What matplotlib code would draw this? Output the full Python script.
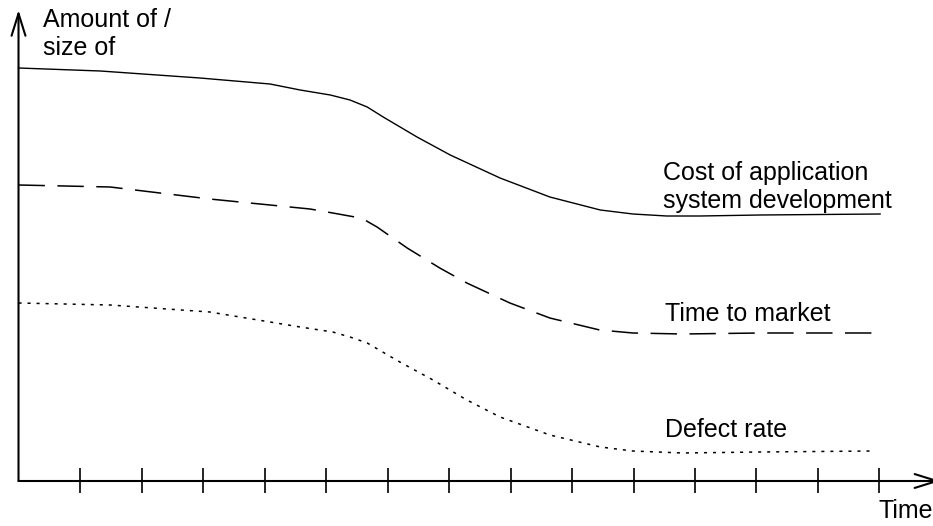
import matplotlib
matplotlib.use("Agg")
import matplotlib.pyplot as plt

#---------------------------
# Données
#---------------------------

# x en graduations de l'axe du temps, y en unités arbitraires
cost_x = [0, 1.33, 2.95, 4.09, 4.58, 5.07, 5.39, 5.67, 5.93, 6.48, 7.02, 7.83, 8.64, 9.46, 9.99, 10.54, 11.08, 12.06, 14.01]
cost_y = [41.3, 41.0, 40.3, 39.7, 39.1, 38.6, 38.1, 37.4, 36.4, 34.4, 32.6, 30.3, 28.4, 27.1, 26.7, 26.5, 26.5, 26.6, 26.7]

ttm_x = [0, 1.49, 3.11, 4.74, 5.11, 5.47, 5.66, 5.83, 6.32, 6.85, 7.29, 7.99, 8.64, 9.45, 9.99, 10.80, 12.06, 13.88]
ttm_y = [29.6, 29.4, 28.2, 27.2, 26.8, 26.4, 26.0, 25.4, 23.3, 21.3, 19.8, 17.8, 16.3, 15.1, 14.8, 14.7, 14.8, 14.8]

defect_x = [0, 1.49, 3.11, 4.58, 5.11, 5.39, 5.67, 6.20, 6.74, 7.29, 7.83, 8.64, 9.46, 9.99, 10.80, 12.06, 13.88]
defect_y = [17.8, 17.6, 16.9, 15.4, 14.9, 14.4, 13.8, 11.9, 10.1, 8.1, 6.4, 4.6, 3.4, 3.0, 2.8, 2.9, 3.0]

tick_positions = list(range(1, 15))

labels = {
    "cost": "Cost of application\nsystem development",
    "ttm": "Time to market",
    "defect": "Defect rate",
}
y_label = "Amount of /\nsize of"
x_label = "Time"

#---------------------------
# Figure
#---------------------------

plt.rcParams["font.family"] = ["Liberation Sans", "DejaVu Sans"]
plt.rcParams["lines.scale_dashes"] = False

fig = plt.figure(figsize=(9.33, 5.26), dpi=100)
ax = fig.add_axes([0, 0, 1, 1])
ax.set_xlim(-0.301, 14.870)
ax.set_ylim(-4.5, 48.1)
ax.axis("off")

# Courbes
ax.plot(cost_x, cost_y, color="black", lw=1.0, solid_joinstyle="round")
ax.plot(ttm_x, ttm_y, color="black", lw=1.1, linestyle=(0, (19, 9)))
ax.plot(defect_x, defect_y, color="black", lw=1.1, linestyle=(0, (2.2, 4.3)))

# Axes avec flèches ouvertes
arrow = dict(arrowstyle="->,head_length=1.6,head_width=0.5", lw=1.5, color="black",
             shrinkA=0, shrinkB=0)
ax.annotate("", xy=(0, 47.1), xytext=(0, 0), arrowprops=arrow, annotation_clip=False)
ax.annotate("", xy=(14.99, 0), xytext=(0, 0), arrowprops=arrow, annotation_clip=False)

# Graduations
ax.vlines(tick_positions, -1.2, 1.3, color="black", lw=1.2)

# Textes
fs = 18
ax.text(10.48, 27.3, labels["cost"], fontsize=fs, va="baseline", ha="left")
ax.text(10.51, 16.0, labels["ttm"], fontsize=fs, va="baseline", ha="left")
ax.text(10.51, 4.4, labels["defect"], fontsize=fs, va="baseline", ha="left")
ax.text(13.99, -3.7, x_label, fontsize=fs, va="baseline", ha="left")
ax.text(0.40, 42.6, y_label, fontsize=fs, va="baseline", ha="left")

fig.savefig("out.png", dpi=100)
